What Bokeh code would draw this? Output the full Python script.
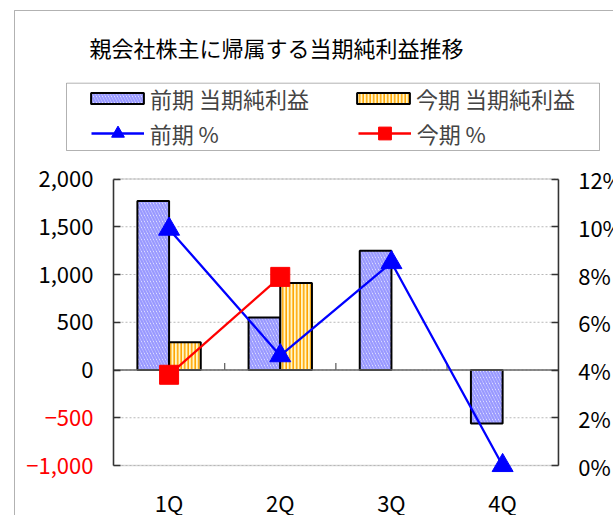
from bokeh.plotting import figure
from bokeh.models import (Range1d, LinearAxis, FixedTicker, ColumnDataSource,
                          Legend, LegendItem, Label, LabelSet, BoxAnnotation)
from bokeh.core.properties import value
from bokeh.embed import file_html
from bokeh.resources import INLINE

# ---------------- data ----------------
categories = ["1Q", "2Q", "3Q", "4Q"]
prev_profit = [1770, 550, 1250, -560]      # 前期 当期純利益
curr_profit = [290, 910]                    # 今期 当期純利益
prev_pct = [9.9, 4.6, 8.5, 0.0]             # 前期 %
curr_pct = [3.8, 7.9]                       # 今期 %
left_ticks = [-1000, -500, 0, 500, 1000, 1500, 2000]
left_tick_labels = ["−1,000", "−500", "0", "500", "1,000", "1,500", "2,000"]
right_ticks = [0, 2, 4, 6, 8, 10, 12]
right_tick_labels = ["0%", "2%", "4%", "6%", "8%", "10%", "12%"]
title_text = "親会社株主に帰属する当期純利益推移"
legend_labels = ["前期 当期純利益", "今期 当期純利益", "前期 %", "今期 %"]

# ---------------- layout ----------------
W, H = 613, 515
PLOT_L, PLOT_R, PLOT_T, PLOT_B = 113, 557.7, 178.5, 465   # plot area in canvas px
FONT = "Noto Sans CJK JP"
FS = "22px"
BAR_W = 0.285

n = len(categories)
px_cat = (PLOT_R - PLOT_L) / n
y0, y1 = left_ticks[0], left_ticks[-1]
px_unit = (PLOT_B - PLOT_T) / (y1 - y0)
r0, r1 = right_ticks[0], right_ticks[-1]
px_pct = (PLOT_B - PLOT_T) / (r1 - r0)

p = figure(width=W, height=H,
           x_range=Range1d(-PLOT_L / px_cat, n + (W - PLOT_R) / px_cat),
           y_range=Range1d(y0 - (H - PLOT_B) / px_unit, y1 + PLOT_T / px_unit),
           output_backend="svg", toolbar_location=None,
           min_border=0, min_border_left=0, min_border_right=0,
           min_border_top=0, min_border_bottom=0)
p.extra_y_ranges = {"pct": Range1d(r0 - (H - PLOT_B) / px_pct, r1 + PLOT_T / px_pct)}
p.background_fill_color = "white"
p.border_fill_color = "white"
p.outline_line_color = None
p.xgrid.visible = False
p.ygrid.visible = False

centers = [i + 0.5 for i in range(n)]

# ---------------- axes ----------------
xa = p.xaxis[0]
xa.fixed_location = y0
xa.ticker = FixedTicker(ticks=centers)
xa.major_label_overrides = {c: cat for c, cat in zip(centers, categories)}
xa.axis_line_color = None
xa.major_tick_line_color = None
xa.minor_tick_line_color = None
xa.major_label_text_font = FONT
xa.major_label_text_font_size = FS
xa.major_label_text_color = "black"
xa.major_label_standoff = 14

ya = p.yaxis[0]
ya.fixed_location = 0
ya.bounds = (y0, y1)
ya.ticker = FixedTicker(ticks=left_ticks)
ya.major_label_overrides = {t: "" for t in left_ticks}
ya.major_tick_in = 7
ya.major_tick_out = 0
ya.minor_tick_line_color = None
ya.axis_line_color = "#333333"
ya.axis_line_width = 1.5
ya.major_tick_line_color = "#333333"
ya.major_tick_line_width = 1.5

ra = LinearAxis(y_range_name="pct", ticker=FixedTicker(ticks=right_ticks))
ra.fixed_location = n
ra.bounds = (r0, r1)
ra.major_label_overrides = {t: s for t, s in zip(right_ticks, right_tick_labels)}
ra.major_tick_in = 7
ra.major_tick_out = 0
ra.minor_tick_line_color = None
ra.axis_line_color = "#333333"
ra.axis_line_width = 1.5
ra.major_tick_line_color = "#333333"
ra.major_tick_line_width = 1.5
ra.major_label_standoff = 20
ra.major_label_text_font = FONT
ra.major_label_text_font_size = FS
ra.major_label_text_color = "black"
p.add_layout(ra, "right")

# ---------------- grid lines (dotted) ----------------
grid_src = ColumnDataSource(dict(y=left_ticks, x0=[0] * len(left_ticks), x1=[n] * len(left_ticks)))
p.segment(x0="x0", x1="x1", y0="y", y1="y", source=grid_src,
          line_color="#b8b8b8", line_width=1, line_dash="2 2")

# ---------------- bars ----------------
src_prev = ColumnDataSource(dict(x=[c - BAR_W / 2 for c in centers], val=prev_profit))
src_curr = ColumnDataSource(dict(x=[c + BAR_W / 2 for c in centers[:len(curr_profit)]], val=curr_profit))
bar_prev = p.vbar(x="x", top="val", bottom=0, width=BAR_W, source=src_prev,
                  fill_color="white", hatch_pattern="left_diagonal_line",
                  hatch_color="#9999ff", hatch_scale=6, hatch_weight=2.4,
                  line_color="black", line_width=2)
bar_curr = p.vbar(x="x", top="val", bottom=0, width=BAR_W, source=src_curr,
                  fill_color="#fff6c8", hatch_pattern="vertical_line",
                  hatch_color="#ffa500", hatch_scale=3.5, hatch_weight=1.6,
                  line_color="black", line_width=2)

# ---------------- zero line with category ticks ----------------
p.segment(x0=[0], x1=[n], y0=[0], y1=[0], line_color="#666666", line_width=1.3)
tick_len = 7 / px_unit
p.segment(x0=list(range(1, n)), x1=list(range(1, n)), y0=[0] * (n - 1), y1=[tick_len] * (n - 1),
          line_color="#666666", line_width=1.3)

# plot-area frame
p.add_layout(BoxAnnotation(left=0, right=n, bottom=y0, top=y1, fill_color=None, fill_alpha=0,
                           line_color="#808080", line_width=1.5, level="underlay"))

# ---------------- lines ----------------
src_pp = ColumnDataSource(dict(x=centers, v=prev_pct))
src_cp = ColumnDataSource(dict(x=centers[:len(curr_pct)], v=curr_pct))
ln_prev = p.line(x="x", y="v", source=src_pp, y_range_name="pct", line_color="#0000ff", line_width=2.3)
mk_prev = p.scatter(x="x", y="v", source=src_pp, y_range_name="pct", marker="triangle", size=21,
                    fill_color="#0000ff", line_color="#0000ff")
ln_curr = p.line(x="x", y="v", source=src_cp, y_range_name="pct", line_color="#ff0000", line_width=2.3)
mk_curr = p.scatter(x="x", y="v", source=src_cp, y_range_name="pct", marker="square", size=19,
                    fill_color="#ff0000", line_color="#ff0000")

# ---------------- left tick labels (negatives in red) ----------------
left_src = ColumnDataSource(dict(y=left_ticks, text=left_tick_labels,
                                 color=["#ff0000" if t < 0 else "#000000" for t in left_ticks]))
p.add_layout(LabelSet(x=0, y="y", text="text", x_offset=-20, source=left_src,
                      text_align="right", text_baseline="middle", text_font=value(FONT),
                      text_font_size=FS, text_color="color"))

# ---------------- title ----------------
p.add_layout(Label(x=276, y=H - 46, x_units="screen", y_units="screen", text=title_text,
                   text_align="center", text_baseline="middle", text_font=FONT,
                   text_font_size=FS, text_color="black"))

# ---------------- chart border and legend box ----------------
p.add_layout(BoxAnnotation(left=14, right=W + 50, top=H - 10, bottom=-50,
                           left_units="screen", right_units="screen", top_units="screen",
                           bottom_units="screen", fill_color=None, fill_alpha=0,
                           line_color="#000000", line_width=1))
p.add_layout(BoxAnnotation(left=66, right=599, top=H - 82.7, bottom=H - 150,
                           left_units="screen", right_units="screen", top_units="screen",
                           bottom_units="screen", fill_color=None, fill_alpha=0,
                           line_color="#000000", line_width=1))

# ---------------- legends ----------------
legA = Legend(items=[LegendItem(label=legend_labels[0], renderers=[bar_prev]),
                     LegendItem(label=legend_labels[1], renderers=[bar_curr])],
              orientation="horizontal", location=(84, H - 114),
              glyph_width=66, glyph_height=14, label_height=30, label_width=200,
              label_standoff=0, spacing=0, padding=0, margin=0,
              border_line_color=None, background_fill_alpha=0,
              label_text_font=FONT, label_text_font_size=FS)
legB = Legend(items=[LegendItem(label=legend_labels[2], renderers=[ln_prev, mk_prev]),
                     LegendItem(label=legend_labels[3], renderers=[ln_curr, mk_curr])],
              orientation="horizontal", location=(90.7, H - 149),
              glyph_width=53, glyph_height=32, label_height=32, label_width=208,
              label_standoff=6, spacing=0, padding=0, margin=0,
              border_line_color=None, background_fill_alpha=0,
              label_text_font=FONT, label_text_font_size=FS)
p.add_layout(legA)
p.add_layout(legB)

open("out.html", "w").write(file_html(p, INLINE, title="親会社株主に帰属する当期純利益推移"))
